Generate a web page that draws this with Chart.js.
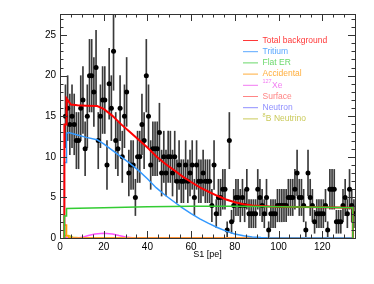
<!DOCTYPE html>
<html>
<head>
<meta charset="utf-8">
<script src="https://cdn.jsdelivr.net/npm/chart.js@4.4.0/dist/chart.umd.min.js"></script>
<style>
  body { margin: 0; background: #fff; }
  #wrap { width: 374px; height: 284px; }
</style>
</head>
<body>
<div id="wrap"><canvas id="spectrum" width="374" height="284"></canvas></div>
<script>
// histogram binning of the data (S1 in pe)
const binLow = 2;
const binWidth = 1;
const counts = [
  15, 16, 14, 15, 14, 12, 12, 16, 17, 11, 15, 20, 20, 18, 21, 12, 15, 17, 17, 9,
  19, 16, 23, 12, 11, 16, 10, 15, 18, 8, 9, 9, 5, 10, 10, 14, 12, 20, 15, 9,
  11, 11, 11, 13, 8, 10, 8, 10, 10, 8, 10, 7, 9, 7, 7, 9, 7, 8, 9, 5,
  9, 7, 7, 8, 7, 7, 7, 4, 9, 3, 5, 5, 6, 6, 1, 12, 2, 4, 5, 5,
  4, 5, 4, 6, 3, 3, 3, 3, 6, 5, 4, 3, 5, 1, 3, 3, 3, 4, 4, 4,
  4, 4, 5, 5, 5, 6, 8, 5, 5, 4, 1, 8, 5, 4, 2, 3, 3, 3, 3, 4,
  1, 6, 6, 6, 2, 2, 2, 4, 5, 3, 6, 4, 3
];

// model curves (x in pe, y in counts)
const totalX = [2, 2, 3, 3, 4, 5, 8, 12, 17, 20, 24, 28, 32, 36, 40, 44, 48, 52, 56, 60, 64, 68, 72, 76, 80, 84, 88, 92, 96, 100, 120, 134, 134];
const totalY = [0, 14, 14, 17.2, 16.8, 16.45, 16.35, 16.3, 16.25, 15.9, 15.05, 14.0, 13.05, 12.1, 11.15, 10.07, 9.18, 8.4, 7.6, 6.9, 6.25, 5.7, 5.2, 4.75, 4.4, 4.17, 4.0, 3.93, 3.88, 3.86, 3.8, 3.74, 0];

const tritiumX = [2, 2, 3, 3, 4, 8, 12, 17, 20, 24, 28, 32, 36, 40, 44, 48, 52, 56, 60, 64, 68, 72, 76, 80, 84, 88, 92, 96, 100, 134];
const tritiumY = [0, 9.3, 9.3, 12.9, 13.0, 12.7, 12.4, 12.1, 11.6, 10.8, 10.0, 9.2, 8.3, 7.3, 6.2, 5.3, 4.5, 3.7, 3.0, 2.35, 1.8, 1.3, 0.85, 0.5, 0.28, 0.12, 0.05, 0.01, 0, 0];

const flatX = [2, 2, 3, 3, 20, 40, 60, 80, 100, 120, 134, 134];
const flatY = [0, 2.7, 2.7, 3.65, 3.72, 3.85, 3.92, 3.9, 3.85, 3.78, 3.72, 0];

const accidentalX = [2, 2, 3, 3, 4, 4, 6, 134];
const accidentalY = [0, 1.6, 1.6, 0.25, 0.25, 0.05, 0, 0];

const xe127X = [2, 8, 10, 13, 16, 20, 24, 27, 30, 33, 36, 134];
const xe127Y = [0, 0, 0.08, 0.3, 0.5, 0.6, 0.5, 0.3, 0.12, 0.03, 0, 0];

const surfaceX = [2, 134];
const surfaceY = [0.02, 0.02];

const neutronX = [2, 134];
const neutronY = [0.01, 0.01];

const b8X = [2, 2, 4, 6, 10, 134];
const b8Y = [0, 0.3, 0.3, 0.1, 0, 0];

const legendLabels = ['Total background', 'Tritium', 'Flat ER', 'Accidental', '127|Xe', 'Surface', 'Neutron', '8|B Neutrino'];
const legendColors = ['#ff3838', '#5aa8ff', '#6ad86a', '#ffae3c', '#f27af2', '#ff8585', '#8f8fff', '#caca5a'];

const pts = (xs, ys) => xs.map((x, i) => ({x: x, y: ys[i]}));
const dataPts = counts.map((n, i) => ({x: binLow + (i + 0.5) * binWidth, y: n}));
const errBars = counts.map((n, i) => ({x: binLow + (i + 0.5) * binWidth, y: [n - Math.sqrt(n), n + Math.sqrt(n)]}));

const model = (label, xs, ys, color, width, order) => ({
  type: 'line', label, data: pts(xs, ys), borderColor: color, borderWidth: width,
  pointRadius: 0, fill: false, tension: 0, order
});

const font = '"Liberation Sans", Arial, sans-serif';

const frame = {
  id: 'frame',
  afterDatasetsDraw(chart) {
    const {ctx, chartArea: a, scales: {x, y}} = chart;
    ctx.save();
    ctx.strokeStyle = '#333';
    ctx.lineWidth = 1;
    ctx.beginPath();
    for (let v = 0; v <= 135; v += 5) {
      const px = Math.round(x.getPixelForValue(v)) + 0.5;
      const len = v % 20 === 0 ? 7 : 3.5;
      ctx.moveTo(px, a.bottom); ctx.lineTo(px, a.bottom - len);
      ctx.moveTo(px, a.top); ctx.lineTo(px, a.top + len);
    }
    for (let v = 0; v <= 27; v += 1) {
      const py = Math.round(y.getPixelForValue(v)) + 0.5;
      const len = v % 5 === 0 ? 7 : 3.5;
      ctx.moveTo(a.left, py); ctx.lineTo(a.left + len, py);
      ctx.moveTo(a.right, py); ctx.lineTo(a.right - len, py);
    }
    ctx.stroke();
    ctx.strokeRect(Math.round(a.left) + 0.5, Math.round(a.top) + 0.5, Math.round(a.right - a.left), Math.round(a.bottom - a.top));
    ctx.restore();
  },
  afterDraw(chart) {
    const ctx = chart.ctx;
    ctx.save();
    ctx.textBaseline = 'middle';
    legendLabels.forEach((lab, i) => {
      const yy = 40 + i * 11.2;
      ctx.strokeStyle = legendColors[i];
      ctx.lineWidth = 1;
      ctx.beginPath(); ctx.moveTo(243, yy + 0.5); ctx.lineTo(258, yy + 0.5); ctx.stroke();
      ctx.fillStyle = legendColors[i];
      let tx = 262.5;
      let text = lab;
      if (lab.includes('|')) {
        const [sup, rest] = lab.split('|');
        ctx.font = '5.5px ' + font;
        ctx.fillText(sup, tx, yy - 3);
        tx += ctx.measureText(sup).width + 0.3;
        text = rest;
      }
      ctx.font = '8.5px ' + font;
      ctx.fillText(text, tx, yy + 0.5);
    });
    ctx.restore();
  }
};

new Chart(document.getElementById('spectrum'), {
  type: 'scatter',
  data: {
    datasets: [
      model('Flat ER', flatX, flatY, '#33cc33', 1.5, 1),
      model('Total background', totalX, totalY, '#ff0000', 2, 2),
      model('Tritium', tritiumX, tritiumY, '#3399ff', 1.5, 3),
      model('Accidental', accidentalX, accidentalY, '#ffa500', 1.5, 4),
      model('127Xe', xe127X, xe127Y, '#ff55ff', 1.5, 5),
      model('Surface', surfaceX, surfaceY, '#ff7f7f', 1, 6),
      model('Neutron', neutronX, neutronY, '#7f7fff', 1, 7),
      model('8B Neutrino', b8X, b8Y, '#cccc33', 1.5, 8),
      {type: 'scatter', label: 'Data', data: dataPts, pointRadius: 2.5, pointBackgroundColor: '#000', pointBorderWidth: 0, order: 9},
      {type: 'bar', label: 'err', data: errBars, backgroundColor: '#3a3a3a', barThickness: 1, grouped: false, order: 10}
    ]
  },
  options: {
    responsive: false,
    animation: false,
    layout: {padding: {left: 0, right: 19, top: 14, bottom: 22}},
    plugins: {legend: {display: false}, tooltip: {enabled: false}},
    scales: {
      x: {
        type: 'linear', min: 0, max: 135, offset: false,
        grid: {display: false, drawTicks: false, offset: false}, border: {display: false},
        ticks: {stepSize: 20, includeBounds: false, padding: 3, maxRotation: 0, autoSkip: false,
                color: '#000', font: {family: font, size: 10}},
        title: {display: true, text: 'S1 [pe]', color: '#000', font: {family: font, size: 9}, padding: {top: 0, bottom: 2}},
        afterFit: s => { s.height = 24; }
      },
      y: {
        type: 'linear', min: 0, max: 27.6,
        grid: {display: false, drawTicks: false}, border: {display: false},
        ticks: {stepSize: 5, includeBounds: false, padding: 4, color: '#000', font: {family: font, size: 10}},
        afterFit: s => { s.width = 60; }
      }
    }
  },
  plugins: [frame]
});
</script>
</body>
</html>
